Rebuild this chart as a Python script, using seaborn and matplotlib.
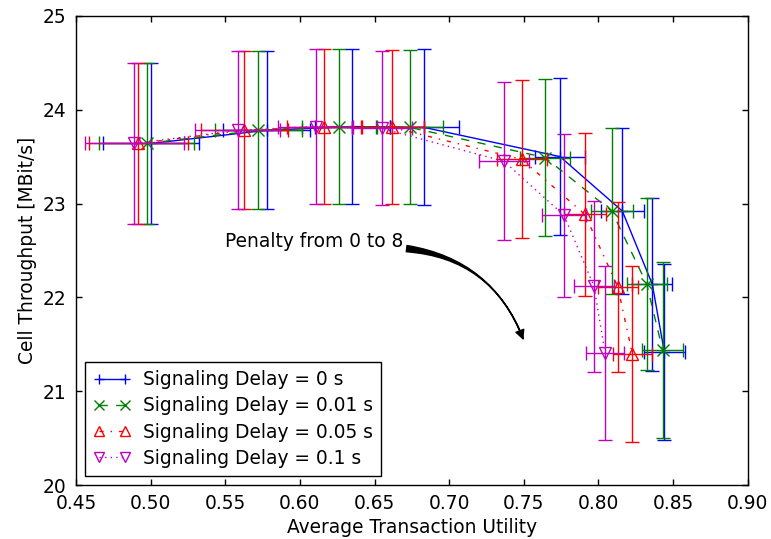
import matplotlib
matplotlib.use("Agg")
import matplotlib.pyplot as plt
import seaborn as sns

# Average transaction utility (x) and cell throughput (y) per penalty step,
# one list per signaling delay, with symmetric error half-widths.
labels = ["Signaling Delay = 0 s", "Signaling Delay = 0.01 s",
          "Signaling Delay = 0.05 s", "Signaling Delay = 0.1 s"]

utility_0 = [0.5002, 0.5777, 0.6351, 0.6833, 0.7742, 0.8160, 0.8361, 0.8441]
throughput_0 = [23.64, 23.78, 23.82, 23.81, 23.50, 22.92, 22.14, 21.42]
utility_err_0 = [0.032, 0.029, 0.025, 0.023, 0.0167, 0.0145, 0.0134, 0.0137]
throughput_err_0 = [0.86, 0.84, 0.83, 0.83, 0.84, 0.88, 0.92, 0.94]

utility_001 = [0.4973, 0.5721, 0.6262, 0.6738, 0.7642, 0.8089, 0.8323, 0.8430]
throughput_001 = [23.64, 23.78, 23.82, 23.81, 23.49, 22.92, 22.145, 21.44]
utility_err_001 = [0.032, 0.029, 0.025, 0.022, 0.0167, 0.0140, 0.0134, 0.0135]
throughput_err_001 = [0.86, 0.84, 0.83, 0.82, 0.84, 0.88, 0.915, 0.94]

utility_005 = [0.4917, 0.5627, 0.6163, 0.6619, 0.7486, 0.7909, 0.8129, 0.8227]
throughput_005 = [23.64, 23.78, 23.82, 23.81, 23.47, 22.885, 22.115, 21.40]
utility_err_005 = [0.033, 0.029, 0.025, 0.021, 0.0166, 0.0143, 0.0134, 0.0130]
throughput_err_005 = [0.86, 0.84, 0.83, 0.82, 0.84, 0.87, 0.905, 0.94]

utility_01 = [0.4891, 0.5583, 0.6106, 0.6548, 0.7367, 0.7769, 0.7970, 0.8044]
throughput_01 = [23.64, 23.78, 23.82, 23.80, 23.45, 22.875, 22.12, 21.41]
utility_err_01 = [0.033, 0.0286, 0.025, 0.020, 0.0165, 0.0145, 0.0134, 0.0127]
throughput_err_01 = [0.86, 0.84, 0.83, 0.82, 0.84, 0.87, 0.91, 0.93]

x_ticks = [0.45, 0.50, 0.55, 0.60, 0.65, 0.70, 0.75, 0.80, 0.85, 0.90]
y_ticks = [20, 21, 22, 23, 24, 25]

series = [
    (utility_0, throughput_0, utility_err_0, throughput_err_0, "#0000ff", "-", "+"),
    (utility_001, throughput_001, utility_err_001, throughput_err_001, "#008000", "--", "x"),
    (utility_005, throughput_005, utility_err_005, throughput_err_005, "#ff0000", "-.", "^"),
    (utility_01, throughput_01, utility_err_01, throughput_err_01, "#bf00bf", ":", "v"),
]

sns.set_style("ticks")
plt.rcParams.update({
    "font.family": ["DejaVu Sans"],
    "font.size": 13.4,
    "axes.edgecolor": "black",
    "axes.linewidth": 1.0,
    "xtick.direction": "in",
    "ytick.direction": "in",
    "xtick.top": True,
    "ytick.right": True,
    "xtick.major.size": 4,
    "ytick.major.size": 4,
    "xtick.major.width": 1.0,
    "ytick.major.width": 1.0,
    "xtick.major.pad": 6,
    "ytick.major.pad": 7,
    "xtick.color": "black",
    "ytick.color": "black",
    "axes.labelcolor": "black",
    "text.color": "black",
    # classic dash patterns
    "lines.scale_dashes": False,
    "lines.dashed_pattern": [6, 6],
    "lines.dashdot_pattern": [3, 5, 1, 5],
    "lines.dotted_pattern": [1, 3],
})

fig = plt.figure(figsize=(7.71, 5.39), dpi=100)
ax = fig.add_axes([0.0986, 0.0996, 0.9698 - 0.0986, 0.9709 - 0.0996])

for i, (xs, ys, xe, ye, color, ls, mk) in enumerate(series):
    ax.errorbar(xs, ys, xerr=xe, yerr=ye, fmt="none", ecolor=color,
                elinewidth=1.0, capsize=5, capthick=1.0, zorder=2 + 2 * i)
    sns.lineplot(x=xs, y=ys, ax=ax, color=color, linestyle=ls, linewidth=1.0,
                 marker=mk, markersize=9, markerfacecolor="none",
                 markeredgecolor=color, markeredgewidth=1.0,
                 sort=False, estimator=None, label=labels[i],
                 legend=False, zorder=3 + 2 * i)

ax.set_xlim(0.45, 0.90)
ax.set_ylim(20, 25)
ax.set_xticks(x_ticks)
ax.set_xticklabels([f"{t:.2f}" for t in x_ticks])
ax.set_yticks(y_ticks)
ax.set_yticklabels([str(t) for t in y_ticks])
ax.set_xlabel("Average Transaction Utility")
ax.set_ylabel("Cell Throughput [MBit/s]")
for side in ax.spines.values():
    side.set_visible(True)
    side.set_color("black")

# Curved annotation: tapering body plus a small head along the same arc
ax.text(0.5498, 22.594, "Penalty from 0 to 8", ha="left", va="center")
arc = "arc3,rad=-0.3"
ax.annotate("", xy=(0.7497, 21.56), xytext=(0.6715, 22.52),
            arrowprops=dict(arrowstyle="wedge,tail_width=0.45,shrink_factor=0.15",
                            connectionstyle=arc, fc="black", ec="black",
                            mutation_scale=10, shrinkA=0, shrinkB=0))
ax.annotate("", xy=(0.7497, 21.547), xytext=(0.6715, 22.52),
            arrowprops=dict(arrowstyle="-|>,head_length=0.6,head_width=0.3",
                            connectionstyle=arc, fc="black", ec="black",
                            lw=1.0, mutation_scale=10, shrinkA=0, shrinkB=0))

leg = ax.legend(loc="lower left", numpoints=2, fancybox=False,
                edgecolor="black", framealpha=1.0, borderpad=0.45,
                handlelength=2.0, labelspacing=0.38, handletextpad=0.65,
                markerscale=0.85)
leg.get_frame().set_linewidth(1.0)

fig.savefig("out.png", dpi=100)
